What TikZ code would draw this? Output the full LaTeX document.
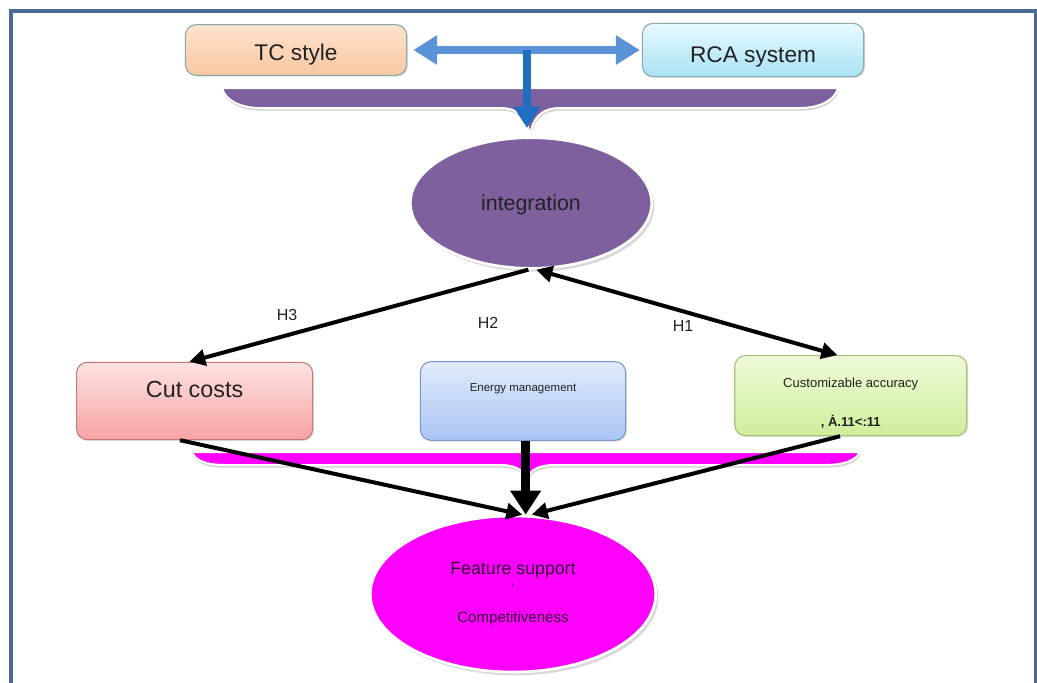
\documentclass[tikz,border=0pt]{standalone}
\usepackage{fontspec}
\setmainfont{Liberation Sans}
\usetikzlibrary{shapes.geometric, arrows.meta, positioning, shadows}

\definecolor{framecol}{HTML}{4B6A93}
\definecolor{tealedge}{HTML}{86ABA8}
\definecolor{peachtop}{HTML}{FCE3CF}
\definecolor{peachbot}{HTML}{F9C7A0}
\definecolor{cyantop}{HTML}{E8FAFE}
\definecolor{cyanbot}{HTML}{A8E2F5}
\definecolor{pinktop}{HTML}{FDE2E2}
\definecolor{pinkbot}{HTML}{F7A3A3}
\definecolor{pinkedge}{HTML}{C47878}
\definecolor{skytop}{HTML}{E2ECFB}
\definecolor{skybot}{HTML}{A9C4F4}
\definecolor{skyedge}{HTML}{7A97C6}
\definecolor{limetop}{HTML}{EFFAD9}
\definecolor{limebot}{HTML}{CFEE9B}
\definecolor{limeedge}{HTML}{A5C27A}
\definecolor{lightarrow}{HTML}{5B93D8}
\definecolor{darkarrow}{HTML}{1E6FC1}
\definecolor{grape}{HTML}{7F609E}
\definecolor{fuchsia}{HTML}{FF00FF}
\definecolor{inktext}{HTML}{222222}

\begin{document}
\begin{tikzpicture}[x=0.75pt, y=-0.75pt,
        box/.style={draw, rounded corners=8pt, line width=0.8pt, text=inktext,
            drop shadow={shadow xshift=1pt, shadow yshift=-1pt, fill=black!25}},
        blob/.style={ellipse, draw=white, line width=2pt,
            drop shadow={shadow xshift=2pt, shadow yshift=-2.5pt, fill=black!30}},
        brace/.style={draw=white, line width=1.5pt,
            drop shadow={shadow xshift=0.5pt, shadow yshift=-2pt, fill=black!35}},
        link/.style={line width=3pt, -{Triangle[length=12pt, width=12pt]}},
        hlabel/.style={font=\fontsize{12}{14}\selectfont, text=inktext}
    ]
        \useasboundingbox (0,0) rectangle (1037,682);
        \clip (0,0) rectangle (1037,682);
        \draw[framecol, line width=2.4pt] (11,11) rectangle (1036,700);

        % top row
        \node[box, draw=tealedge, top color=peachtop, bottom color=peachbot,
            minimum width=166pt, minimum height=38pt, text height=19.5pt,
            font=\fontsize{17}{20}\selectfont] (tc) at (296,50) {TC style};
        \node[box, draw=tealedge, top color=cyantop, bottom color=cyanbot,
            minimum width=166pt, minimum height=40pt, text height=23pt, right=176pt of tc,
            font=\fontsize{17}{20}\selectfont] (rca) {RCA system};

        % upper brace
        \fill[grape, brace] (222,88) -- (838,88)
            .. controls (835,100) and (820,108) .. (800,108) -- (560,108)
            .. controls (540,108) and (532,120) .. (530,136)
            .. controls (528,120) and (520,108) .. (500,108) -- (260,108)
            .. controls (240,108) and (225,100) .. (222,88) -- cycle;
        \coordinate (bracetip) at (530,136);

        \draw[{Triangle[length=18pt, width=21pt]}-{Triangle[length=18pt, width=21pt]},
            lightarrow, line width=6.5pt, shorten <=4.5pt, shorten >=1.5pt]
            (tc) -- coordinate[pos=0.51] (split) (rca);
        \draw[-{Triangle[length=16pt, width=19pt]}, darkarrow, line width=6.5pt,
            shorten >=6pt] (split) -- (split |- bracetip);

        \node[blob, fill=grape, minimum width=181pt, minimum height=98pt, text height=14pt,
            text=inktext, font=\fontsize{16}{19}\selectfont] (integ) at (531,203) {integration};

        % middle row
        \node[box, draw=skyedge, top color=skytop, bottom color=skybot,
            minimum width=154pt, minimum height=59pt, text depth=20pt,
            font=\fontsize{8.6}{10}\selectfont] (energy) at (523,401) {Energy management};
        \node[box, draw=pinkedge, top color=pinktop, bottom color=pinkbot,
            minimum width=177pt, minimum height=58pt, left=80pt of energy, text depth=18pt,
            font=\fontsize{17.5}{20}\selectfont] (cut) {Cut costs};
        \node[box, draw=limeedge, top color=limetop, bottom color=limebot,
            minimum width=174pt, minimum height=60pt, right=81pt of energy, yshift=4pt,
            align=center, font=\fontsize{9.8}{12}\selectfont] (acc)
            {\rule{0pt}{19pt}Customizable accuracy\\[17pt]\textbf{, \.{A}.11<:11}};

        \draw[link] ([xshift=-2pt]integ.south) -- ([xshift=-4pt]cut.north);
        \draw[line width=3pt, {Triangle[length=12pt, width=12pt]}-{Triangle[length=12pt, width=12pt]}]
            ([xshift=4pt]integ.south) -- ([xshift=-10pt]acc.north);

        \node[hlabel] (h3) at (287,315) {H3};
        \node[hlabel] (h2) at (488,323) {H2};
        \node[hlabel] (h1) at (683,326) {H1};

        % lower brace
        \fill[fuchsia, brace] (192,452) -- (860,452)
            .. controls (856,460) and (845,465) .. (825,465) -- (555,465)
            .. controls (535,465) and (528,472) .. (527,482)
            .. controls (526,472) and (518,465) .. (500,465) -- (225,465)
            .. controls (205,465) and (195,460) .. (192,452) -- cycle;

        \node[blob, fill=fuchsia, minimum width=214pt, minimum height=117pt,
            align=center, text=black!80!fuchsia, font=\fontsize{13.3}{16}\selectfont] (feat) at (513,594)
            {Feature support\\[-6pt]{\fontsize{6}{7}\selectfont ı}\\[10pt]%
             {\fontsize{11.3}{13}\selectfont Competitiveness}};

        \draw[link] ([xshift=-11pt]cut.south) -- ([xshift=7pt]feat.north);
        \draw[line width=6.5pt, -{Triangle[length=18pt, width=22pt]}]
            ([xshift=2pt]energy.south) -- ([xshift=2pt]energy.south |- feat.north);
        \draw[link] ([xshift=-8pt]acc.south) -- ([xshift=14pt]feat.north);
    \end{tikzpicture}
\end{document}
